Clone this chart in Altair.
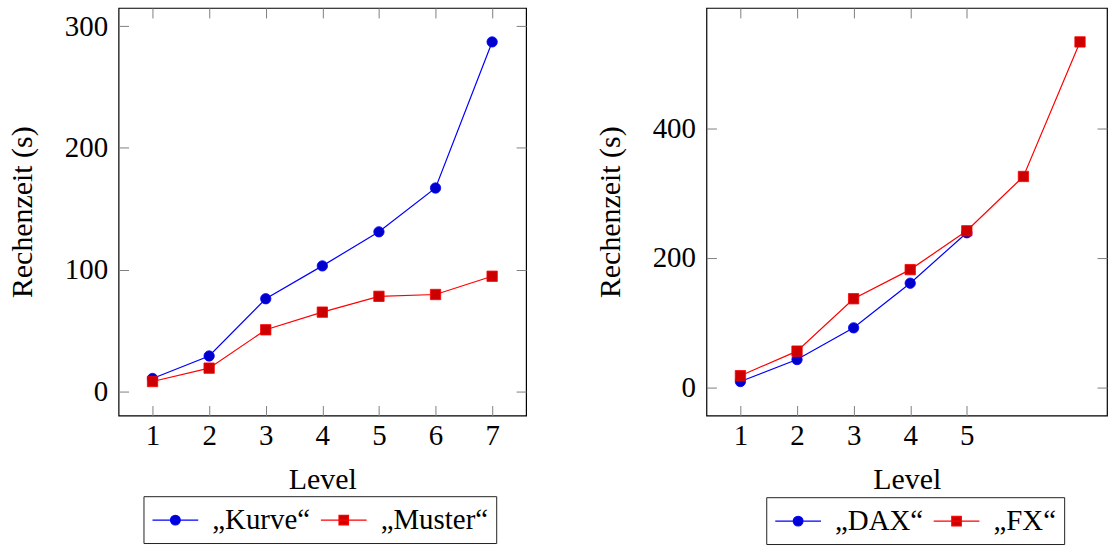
import altair as alt
import pandas as pd

# Computation time per level (seconds)
levels = [1, 2, 3, 4, 5, 6, 7]
kurve = [10.5, 29, 76, 103, 131, 167, 287]
muster = [8, 19, 50.5, 65, 78, 79.5, 94.5]

dax_levels = [1, 2, 3, 4, 5]
dax = [9, 43, 92, 161, 239]
fx_levels = [1, 2, 3, 4, 5, 6, 7]
fx = [18, 56, 137, 182, 242, 326, 534]

left_names = ["„Kurve“", "„Muster“"]
right_names = ["„DAX“", "„FX“"]

left_yticks = [0, 100, 200, 300]
right_yticks = [0, 200, 400]
left_xticks = [1, 2, 3, 4, 5, 6, 7]
right_xticks = [1, 2, 3, 4, 5]

FONT = "Liberation Serif"
FS = 29
TITLE_FS = 30
LINE_COLORS = ["#0000ff", "#ff0000"]
MARK_FILLS = ["#0000cc", "#cc0000"]
MARK_SHAPES = ["circle", "square"]
PANEL = 409  # full plot-area side length

# legend glyphs (units of half the symbol box): a short line with a
# circle / square in its middle
CIRCLE_GLYPH = ("M-1.53,0L1.53,0M0.33,0A0.33,0.33,0,1,1,-0.33,0"
                "A0.33,0.33,0,1,1,0.33,0Z")
SQUARE_GLYPH = "M-1.53,0L1.53,0M-0.32,-0.32L0.32,-0.32L0.32,0.32L-0.32,0.32Z"


def by_entry(first, second):
    return {"expr": f"datum.index === 0 ? '{first}' : '{second}'"}


def enlarged(lo, hi, frac=0.1):
    span = hi - lo
    return [lo - frac * span, hi + frac * span]


def panel(df, names, xticks, yticks, legend_x, legend_y, width=PANEL):
    xdom = enlarged(df["x"].min(), df["x"].max())
    # a narrower panel keeps the same units per pixel and shows less on the right
    xdom[1] = xdom[0] + (xdom[1] - xdom[0]) * width / PANEL
    ydom = enlarged(df["y"].min(), df["y"].max())
    xs = alt.Scale(domain=xdom, nice=False, zero=False)
    ys = alt.Scale(domain=ydom, nice=False, zero=False)

    legend = alt.Legend(
        orient="none", legendX=legend_x, legendY=legend_y,
        direction="horizontal", title=None,
        labelFont=FONT, labelFontSize=FS, labelColor="black",
        symbolType=by_entry(CIRCLE_GLYPH, SQUARE_GLYPH),
        symbolFillColor=by_entry(*MARK_FILLS),
        symbolStrokeColor=by_entry(*LINE_COLORS),
        symbolSize=900, symbolStrokeWidth=1.1, symbolOpacity=1,
        symbolOffset=8, labelOffset=21,
        strokeColor="#222222", padding=8, columnPadding=7,
    )

    lines = alt.Chart(df).mark_line(strokeWidth=1.2, clip=True).encode(
        x=alt.X("x:Q", scale=xs, axis=alt.Axis(
            orient="bottom", values=xticks, offset=-10, tickSize=10,
            labelPadding=6, format="d", title="Level", titlePadding=14)),
        y=alt.Y("y:Q", scale=ys, axis=alt.Axis(
            orient="left", values=yticks, offset=-10, tickSize=10,
            labelPadding=11, format="d", title="Rechenzeit (s)", titlePadding=27)),
        color=alt.Color("series:N", scale=alt.Scale(domain=names, range=LINE_COLORS),
                        legend=legend),
        order="x:Q",
    )

    marks = []
    for i, name in enumerate(names):
        layer = alt.Chart(df).transform_filter(
            alt.datum.series == name
        ).mark_point(
            shape=MARK_SHAPES[i], filled=True, size=108, fill=MARK_FILLS[i],
            stroke=LINE_COLORS[i], strokeWidth=0.8, opacity=1,
        )
        if i == 0:
            # this layer also carries the inner ticks on the top and right
            layer = layer.encode(
                x=alt.X("x:Q", scale=xs, axis=alt.Axis(
                    orient="top", values=xticks, offset=-10, tickSize=10,
                    labels=False, title=None)),
                y=alt.Y("y:Q", scale=ys, axis=alt.Axis(
                    orient="right", values=yticks, offset=-10, tickSize=10,
                    labels=False, title=None)),
            )
        else:
            layer = layer.encode(
                x=alt.X("x:Q", scale=xs, axis=None),
                y=alt.Y("y:Q", scale=ys, axis=None),
            )
        marks.append(layer)

    return (alt.layer(lines, *marks)
            .resolve_axis(x="independent", y="independent")
            .properties(width=width, height=PANEL))


def table(xs_a, ys_a, xs_b, ys_b, names):
    series = [names[0]] * len(xs_a) + [names[1]] * len(xs_b)
    return pd.DataFrame({"x": xs_a + xs_b, "y": ys_a + ys_b, "series": series})


left_df = table(levels, kurve, levels, muster, left_names)
right_df = table(dax_levels, dax, fx_levels, fx, right_names)

left = panel(left_df, left_names, left_xticks, left_yticks, 25, 490)
right = panel(right_df, right_names, right_xticks, right_yticks, 60, 491, width=402)

chart = (
    alt.hconcat(left, right, spacing=66)
    .resolve_scale(x="independent", y="independent", color="independent")
    .resolve_legend(color="independent")
    .properties(padding={"left": 6, "top": 5, "right": 0, "bottom": 0},
                background="white")
    .configure_view(stroke="black", strokeWidth=1.2)
    .configure_axis(
        labelFont=FONT, labelFontSize=FS, labelColor="black",
        titleFont=FONT, titleFontSize=TITLE_FS, titleFontWeight="normal", titleColor="black",
        tickColor="#808080", tickWidth=1, domain=False, grid=False,
    )
)

chart.save("out.html", embed_options={"renderer": "svg", "actions": False})
